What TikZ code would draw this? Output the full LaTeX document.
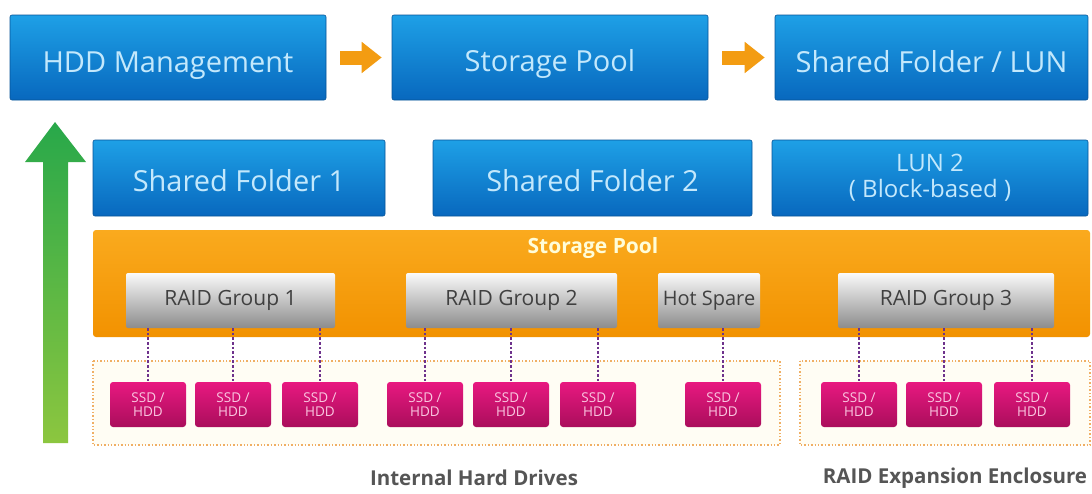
\documentclass[tikz,border=0pt]{standalone}
\usepackage{fontspec}
\setmainfont{Open Sans}
\usetikzlibrary{arrows.meta}
\definecolor{bluetop}{RGB}{30,160,230}
\definecolor{bluebot}{RGB}{8,104,190}
\definecolor{bluetext}{RGB}{195,232,252}
\definecolor{pooltop}{RGB}{250,170,30}
\definecolor{poolbot}{RGB}{242,146,0}
\definecolor{raidtop}{RGB}{250,250,250}
\definecolor{raidbot}{RGB}{140,140,140}
\definecolor{disktop}{RGB}{232,24,128}
\definecolor{diskbot}{RGB}{170,14,92}
\definecolor{diskText}{RGB}{250,200,225}
\definecolor{linkc}{RGB}{110,50,140}
\definecolor{encl}{RGB}{240,175,100}
\definecolor{enclfill}{RGB}{255,253,244}
\definecolor{greentop}{RGB}{40,168,74}
\definecolor{greenbot}{RGB}{140,198,63}
\definecolor{arrowc}{RGB}{243,156,18}
\definecolor{captionc}{RGB}{85,85,85}
\newcommand{\lowered}[2]{\raisebox{-#1}[\height][\depth]{#2}}
\tikzset{
  bluebox/.style={rounded corners=2pt, top color=bluetop, bottom color=bluebot,
    draw=bluebot!80!black, line width=0.6pt, text=bluetext, align=center,
    font=\fontsize{29}{30}\selectfont, inner sep=0pt},
  poolbox/.style={rounded corners=3pt, top color=pooltop, bottom color=poolbot,
    minimum width=997pt, minimum height=107pt, inner sep=0pt},
  raidbox/.style={rounded corners=2pt, top color=raidtop, bottom color=raidbot,
    minimum height=55pt, text=black!75, font=\fontsize{21}{22}\selectfont, inner sep=0pt},
  diskbox/.style={rounded corners=3pt, top color=disktop, bottom color=diskbot,
    minimum width=76pt, minimum height=45pt, text=diskText, align=center,
    font=\fontsize{13.5}{14}\selectfont, inner sep=0pt},
  enclbox/.style={draw=encl, dotted, line width=1.4pt, fill=enclfill},
  link/.style={draw=linkc, dotted, line width=2.6pt},
  flow/.style={draw=arrowc, line width=14pt, -{Triangle[width=30pt,length=20pt]},
    shorten <=14pt, shorten >=10pt},
  caption/.style={text=captionc, font=\bfseries\fontsize{20.5}{21}\selectfont}
}
\begin{document}
\begin{tikzpicture}[x=1pt,y=-1pt]
  \useasboundingbox[fill=white] (0,0) rectangle (1092,493);
  \shade[top color=greentop, bottom color=greenbot]
    (43,443) -- (43,162) -- (25,162) -- (55,122) -- (86,162) -- (68,162) -- (68,443) -- cycle;
  \node[bluebox, minimum width=316pt, minimum height=85pt] (hdd) at (168,57.5) {\lowered{8pt}{HDD Management}};
  \node[bluebox, minimum width=316pt, minimum height=85pt] (pool) at (550,57.5) {\lowered{6pt}{Storage Pool}};
  \node[bluebox, minimum width=313pt, minimum height=85pt] (share) at (931.5,57.5) {\lowered{4pt}{Shared Folder / LUN}};
  \draw[flow] (hdd) -- (pool);
  \draw[flow] (pool) -- (share);
  \node[bluebox, minimum width=292pt, minimum height=76pt] (sf1) at (239,178) {\lowered{3pt}{Shared Folder 1}};
  \node[bluebox, minimum width=319pt, minimum height=76pt] (sf2) at (592.5,178) {\lowered{3pt}{Shared Folder 2}};
  \node[bluebox, minimum width=316pt, minimum height=76pt,
    font=\fontsize{24}{26}\selectfont] (lun) at (930,178) {LUN 2\\( Block-based )};
  \node[poolbox] (band) at (591.5,283.5) {};
  \node[text=yellow!15, font=\bfseries\fontsize{21}{22}\selectfont] (bandtitle) at (593,248) {Storage Pool};
  \node[raidbox, minimum width=209pt] (r1) at (230.5,300.5) {RAID Group 1};
  \node[raidbox, minimum width=211pt] (r2) at (511.5,300.5) {RAID Group 2};
  \node[raidbox, minimum width=102pt, font=\fontsize{20}{21}\selectfont] (hot) at (709,300.5) {Hot Spare};
  \node[raidbox, minimum width=216pt] (r3) at (946,300.5) {RAID Group 3};
  \draw[enclbox] (93,361) rectangle (780,445);
  \draw[enclbox] (800,361) rectangle (1090,445);
  \node[diskbox] (d1) at (148,404.5) {SSD /\\HDD};
  \node[diskbox] (d2) at (233,404.5) {SSD /\\HDD};
  \node[diskbox] (d3) at (320,404.5) {SSD /\\HDD};
  \node[diskbox] (d4) at (425,404.5) {SSD /\\HDD};
  \node[diskbox] (d5) at (511,404.5) {SSD /\\HDD};
  \node[diskbox] (d6) at (598,404.5) {SSD /\\HDD};
  \node[diskbox] (d7) at (723,404.5) {SSD /\\HDD};
  \node[diskbox] (d8) at (859,404.5) {SSD /\\HDD};
  \node[diskbox] (d9) at (944,404.5) {SSD /\\HDD};
  \node[diskbox] (d10) at (1032,404.5) {SSD /\\HDD};
  \foreach \r/\d in {r1/d1,r1/d2,r1/d3,r2/d4,r2/d5,r2/d6,hot/d7,r3/d8,r3/d9,r3/d10}
    \draw[link] (\r.south -| \d.north) -- (\d.north);
  \node[caption] (internal) at (474,478) {Internal Hard Drives};
  \node[caption] (expansion) at (955,478) {RAID Expansion Enclosure};
\end{tikzpicture}
\end{document}
